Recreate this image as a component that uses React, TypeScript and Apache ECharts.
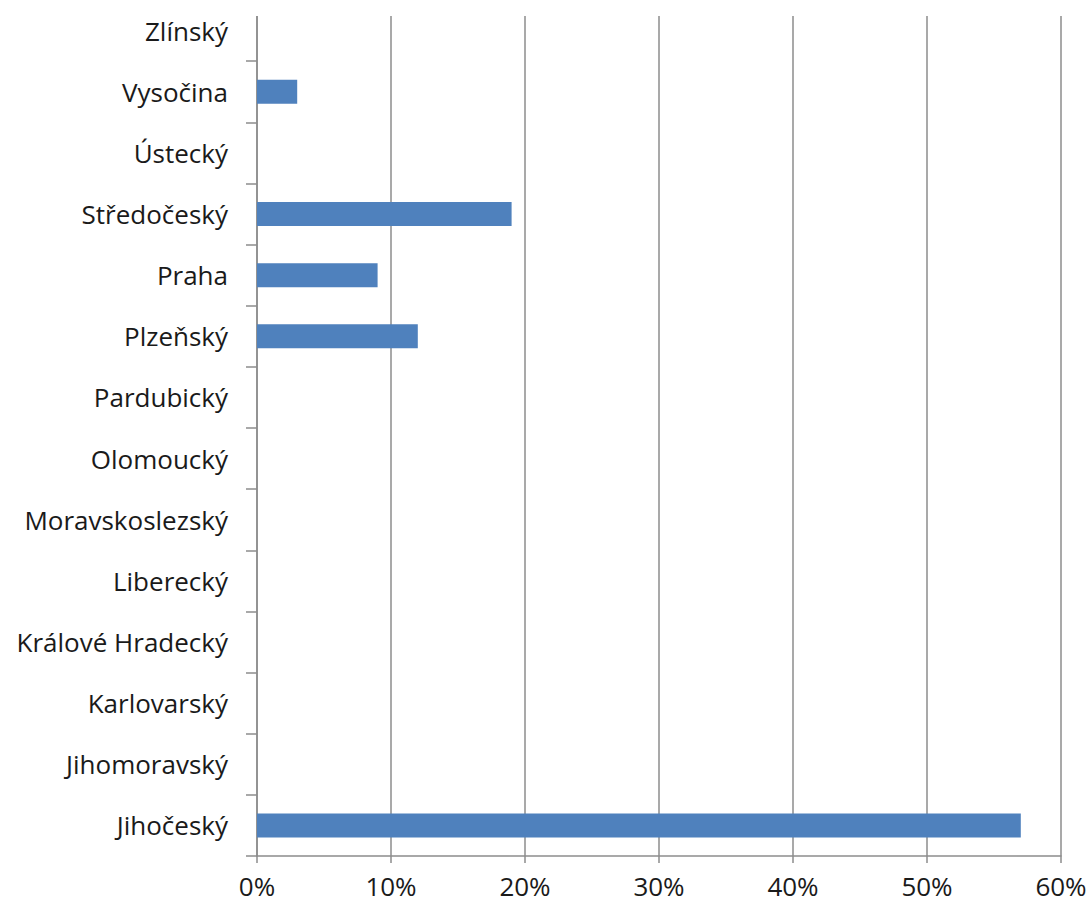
import React, { useEffect, useRef } from "react";
import * as echarts from "echarts";

const categories = [
  "Jihočeský",
  "Jihomoravský",
  "Karlovarský",
  "Králové Hradecký",
  "Liberecký",
  "Moravskoslezský",
  "Olomoucký",
  "Pardubický",
  "Plzeňský",
  "Praha",
  "Středočeský",
  "Ústecký",
  "Vysočina",
  "Zlínský",
];
const values = [57, 0, 0, 0, 0, 0, 0, 0, 12, 9, 19, 0, 3, 0];
const xTicks = { min: 0, max: 60, interval: 10 };

export default function App() {
  const ref = useRef<HTMLDivElement>(null);
  useEffect(() => {
    if (!ref.current) return;
    const chart = echarts.init(ref.current, null, { renderer: "svg" });
    const font = "'Open Sans', sans-serif";
    chart.setOption({
      animation: false,
      backgroundColor: "#ffffff",
      grid: { left: 257, right: 31, top: -3.5, bottom: 47, containLabel: false },
      xAxis: {
        type: "value",
        min: xTicks.min,
        max: xTicks.max,
        interval: xTicks.interval,
        axisLine: { show: true, lineStyle: { color: "#8c8c8c", width: 1.5 } },
        axisTick: { show: true, length: 7, lineStyle: { color: "#8c8c8c", width: 1.5 } },
        splitLine: { show: true, lineStyle: { color: "#8c8c8c", width: 1.5 } },
        axisLabel: {
          formatter: "{value}%",
          color: "#1a1a1a",
          fontSize: 26,
          fontFamily: font,
          margin: 17,
        },
      },
      yAxis: {
        type: "category",
        data: categories,
        axisLine: { show: true, lineStyle: { color: "#8c8c8c", width: 1.5 } },
        axisTick: { show: true, length: 11, lineStyle: { color: "#8c8c8c", width: 1.5 } },
        axisLabel: {
          color: "#1a1a1a",
          fontSize: 26,
          fontFamily: font,
          margin: 29,
          padding: [0, 0, 5, 0],
        },
      },
      series: [
        {
          type: "bar",
          data: values,
          barWidth: 24,
          itemStyle: { color: "#4F81BD" },
        },
      ],
      graphic: [
        {
          type: "rect",
          shape: { x: 240, y: 0, width: 852, height: 16 },
          style: { fill: "#ffffff" },
          z: 100,
        },
      ],
    });
    return () => chart.dispose();
  }, []);
  return <div ref={ref} style={{ width: 1092, height: 903, position: "absolute", left: 0, top: 0 }} />;
}
